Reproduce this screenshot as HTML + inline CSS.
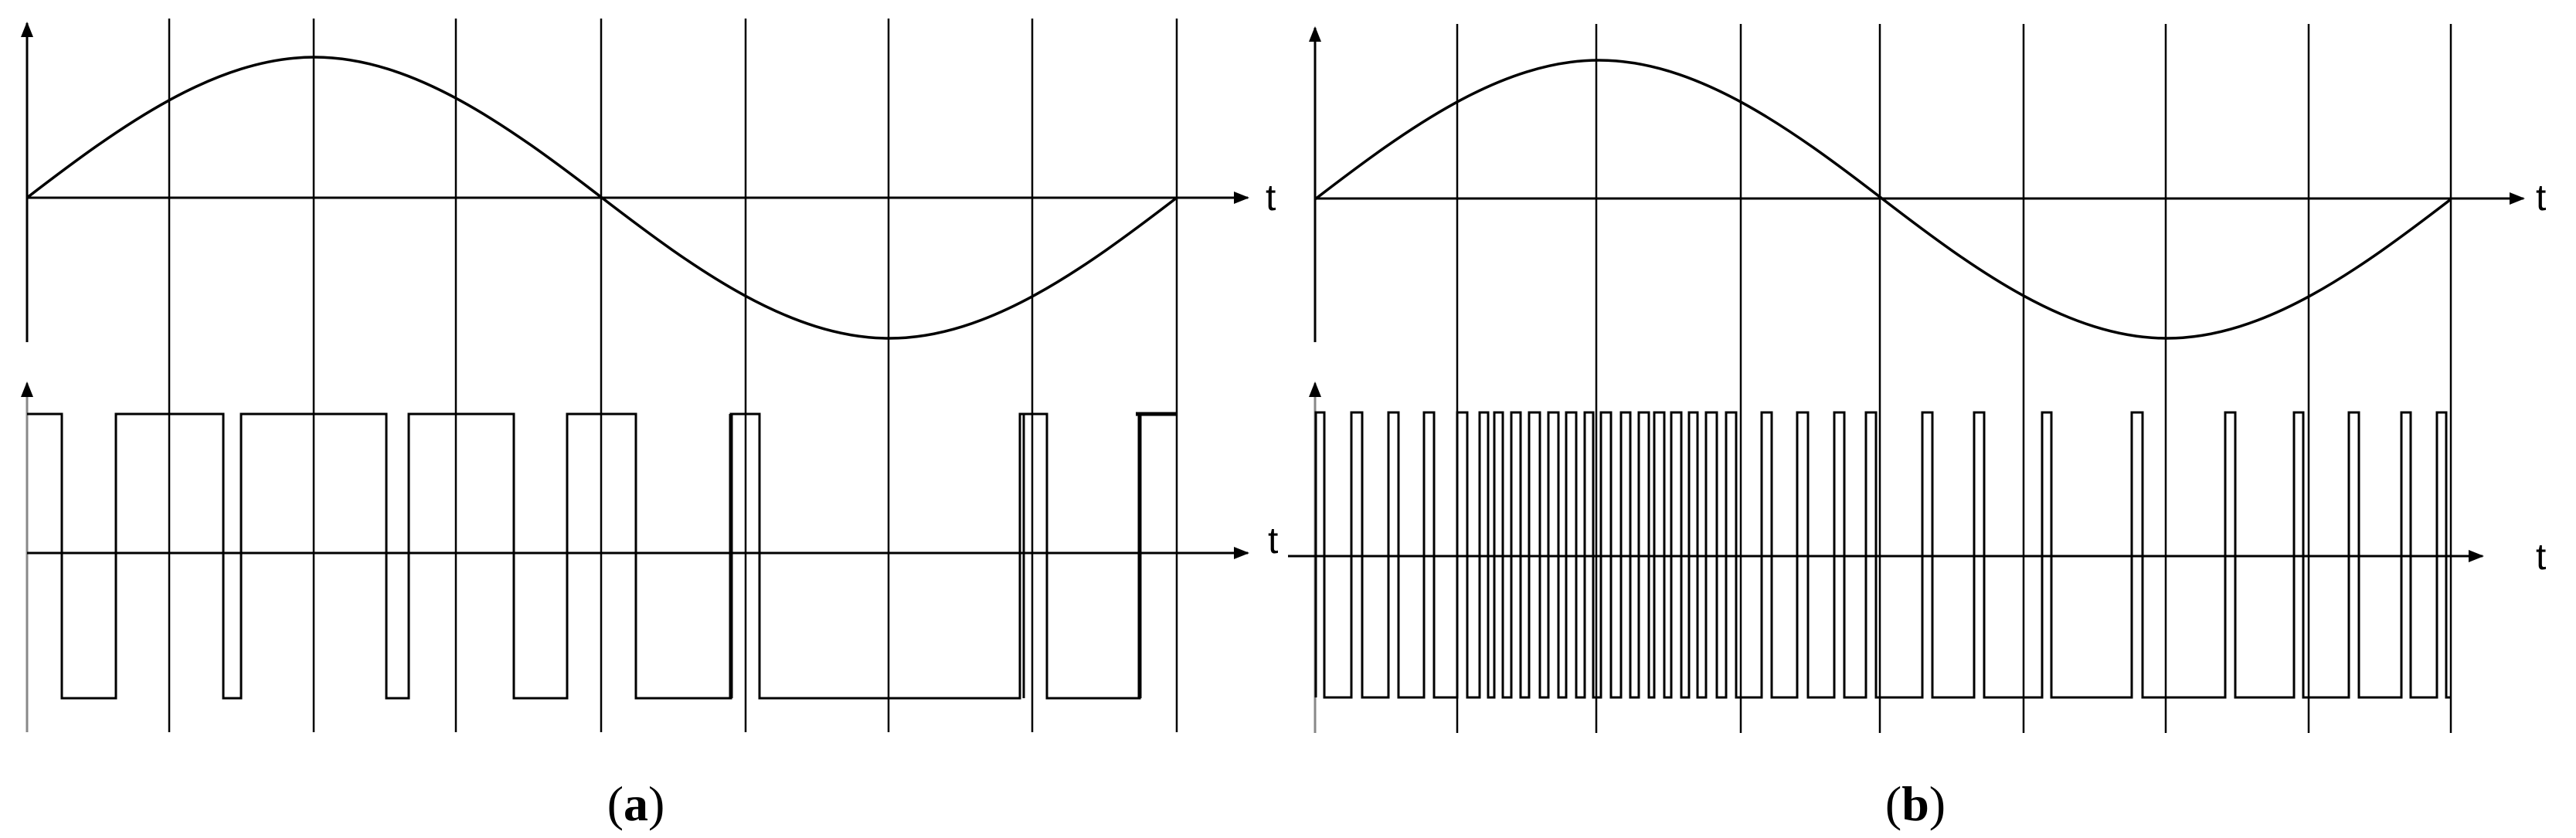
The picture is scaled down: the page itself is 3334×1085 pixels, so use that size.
<!DOCTYPE html>
<html><head><style>
html,body{margin:0;padding:0;background:#fff;}
svg{display:block;}
text{font-family:"Liberation Serif",serif;fill:#000;}
.t{font-family:"Liberation Sans",sans-serif;font-size:48px;}
</style></head><body>
<svg width="3334" height="1085" viewBox="0 0 3334 1085" xmlns="http://www.w3.org/2000/svg">
<defs>
<marker id="arB" markerWidth="20" markerHeight="16" refX="18" refY="8" orient="auto" markerUnits="userSpaceOnUse">
<path d="M0,0 L20,8 L0,16 z" fill="#000"/></marker>
</defs>
<g stroke="#000" stroke-width="2.5" fill="none">
<path d="M219,24V948M406,24V948M590,24V948M778,24V948M965,24V948M1150,24V948M1336,24V948M1523,24V948"/>
<path d="M1886,31V949M2066,31V949M2253,31V949M2433,31V949M2619,31V949M2803,31V949M2988,31V949M3172,31V949"/>
</g>
<g stroke="#000" stroke-width="3" fill="none">
<line x1="35" y1="443" x2="35" y2="30" marker-end="url(#arB)"/>
<line x1="35" y1="256" x2="1615" y2="256" marker-end="url(#arB)"/>
<line x1="35" y1="948" x2="35" y2="496" stroke="#888" marker-end="url(#arB)"/>
<line x1="35" y1="716" x2="1615" y2="716" marker-end="url(#arB)"/>
<line x1="1702" y1="443" x2="1702" y2="36" marker-end="url(#arB)"/>
<line x1="1702" y1="257" x2="3266" y2="257" marker-end="url(#arB)"/>
<line x1="1702" y1="949" x2="1702" y2="496" stroke="#888" marker-end="url(#arB)"/>
<line x1="1667" y1="720" x2="3213" y2="720" marker-end="url(#arB)"/>
</g>
<g stroke="#000" stroke-width="3.5" fill="none">
<path d="M35,256 C156.3,162.8 279.1,74 407,74 C534.9,74 657.7,162.8 779,256 C900.3,349.2 1023.1,438 1151,438 C1278.9,438 1401.7,349.2 1523,256"/>
<path d="M1702,258 C1821.9,165.8 1943.1,78 2069.5,78 C2195.9,78 2317.1,165.8 2437,258 C2556.9,350.2 2678.1,438 2804.5,438 C2930.9,438 3052.1,350.2 3172,258"/>
</g>
<g stroke="#000" stroke-width="3" fill="none">
<path d="M35,536 H80 V904 H150 V536 H289 V904 H312 V536 H500 V904 H529 V536 H665 V904 H734 V536 H823 V904 H946 V536 H983 V904 H1320 V536 H1355 V904 H1475 V536 H1523"/>
<path d="M946,536V904M1475,536V904M1470,536H1523" stroke-width="5"/>
<path d="M1325,536V904"/>
<path d="M1703,903 V534 H1714 V903 H1749 V534 H1763 V903 H1797 V534 H1810 V903 H1843 V534 H1856 V903 H1886 V534 H1899 V903 H1915 V534 H1926 V903 H1934 V534 H1945 V903 H1956 V534 H1968 V903 H1979 V534 H1993 V903 H2004 V534 H2017 V903 H2027 V534 H2040 V903 H2051 V534 H2062 V903 H2072 V534 H2085 V903 H2098 V534 H2110 V903 H2121 V534 H2134 V903 H2141 V534 H2154 V903 H2163 V534 H2176 V903 H2186 V534 H2197 V903 H2208 V534 H2222 V903 H2234 V534 H2247 V903 H2280 V534 H2293 V903 H2326 V534 H2340 V903 H2374 V534 H2387 V903 H2415 V534 H2428 V903 H2488 V534 H2501 V903 H2555 V534 H2568 V903 H2643 V534 H2655 V903 H2759 V534 H2773 V903 H2880 V534 H2893 V903 H2969 V534 H2981 V903 H3040 V534 H3053 V903 H3108 V534 H3120 V903 H3154 V534 H3166 V903 H3172"/>
</g>
<text class="t" x="1638" y="272">t</text>
<text class="t" x="1641" y="716">t</text>
<text class="t" x="3282" y="272">t</text>
<text class="t" x="3282" y="737">t</text>
<text x="823" y="1062" font-size="64" text-anchor="middle">(<tspan font-weight="bold">a</tspan>)</text>
<text x="2479" y="1062" font-size="64" text-anchor="middle">(<tspan font-weight="bold">b</tspan>)</text>
</svg>
</body></html>
